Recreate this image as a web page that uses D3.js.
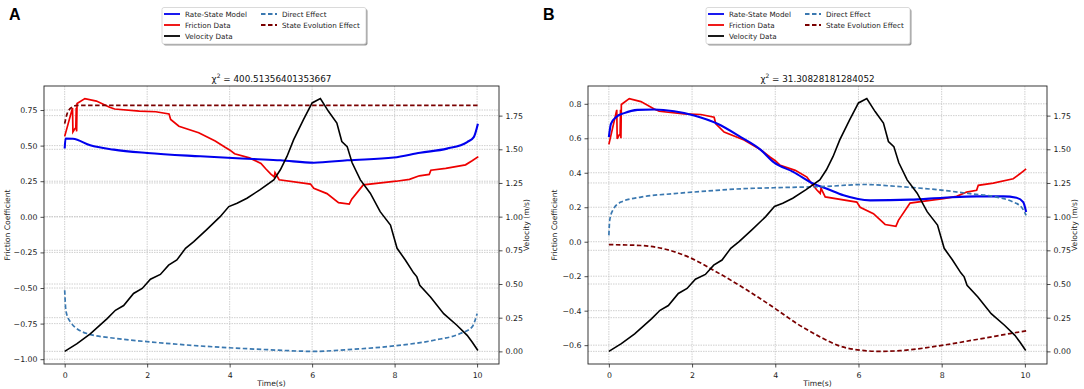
<!DOCTYPE html>
<html>
<head>
<meta charset="utf-8">
<script src="https://cdn.jsdelivr.net/npm/d3@7"></script>
<style>
  body { margin: 0; background: #fff; }
  svg { font-family: "DejaVu Sans", sans-serif; }
</style>
</head>
<body>
<svg id="chart" width="1084" height="389"></svg>
<script>
// measured data (time in s, value)
const frictionData = [[0,0.565],[0.19,0.765],[0.2,0.597],[0.25,0.62],[0.27,0.62],[0.28,0.765],[0.29,0.60],[0.3,0.796],[0.49,0.83],[0.77,0.813],[1.09,0.77],[1.21,0.757],[1.81,0.742],[2.21,0.738],[2.53,0.722],[2.57,0.684],[2.77,0.636],[3.25,0.59],[3.65,0.533],[3.88,0.49],[4.0,0.47],[4.12,0.443],[4.48,0.414],[4.76,0.375],[4.88,0.336],[5.0,0.3],[5.08,0.28],[5.1,0.31],[5.2,0.26],[5.96,0.23],[6.04,0.20],[6.36,0.163],[6.64,0.10],[6.9,0.089],[6.96,0.124],[7.24,0.224],[7.72,0.24],[8.04,0.25],[8.36,0.263],[8.6,0.288],[8.84,0.298],[8.88,0.327],[9.24,0.34],[9.72,0.365],[9.88,0.394],[10.03,0.423]];

const velocityData = [[0,0],[0.3,0.057],[0.62,0.13],[1.03,0.243],[1.23,0.305],[1.43,0.34],[1.67,0.43],[1.88,0.467],[2.08,0.536],[2.32,0.571],[2.52,0.64],[2.72,0.678],[2.93,0.765],[3.13,0.814],[3.45,0.906],[3.77,1.0],[3.98,1.075],[4.18,1.1],[4.42,1.137],[4.74,1.2],[5.07,1.273],[5.23,1.348],[5.39,1.447],[5.55,1.57],[5.79,1.72],[6.0,1.844],[6.2,1.876],[6.4,1.78],[6.6,1.695],[6.72,1.558],[6.85,1.52],[6.97,1.4],[7.17,1.273],[7.41,1.174],[7.65,1.037],[7.9,0.938],[7.98,0.851],[8.06,0.765],[8.26,0.678],[8.46,0.583],[8.54,0.553],[8.61,0.491],[8.87,0.404],[9.19,0.28],[9.51,0.194],[9.76,0.119],[9.88,0.069],[10.02,0.007]];

// panel A fit
const modelA = [[0,0.48],[0.02,0.55],[0.2,0.548],[0.62,0.502],[1.19,0.472],[2.0,0.448],[3.29,0.425],[4.58,0.406],[5.23,0.397],[6.04,0.38],[6.85,0.397],[7.98,0.416],[8.62,0.45],[9.27,0.479],[9.76,0.525],[9.92,0.56],[10.02,0.654]];
const directA = [[0,-0.516],[0.03,-0.66],[0.14,-0.739],[0.54,-0.82],[1.27,-0.855],[2.08,-0.879],[3.29,-0.907],[4.91,-0.933],[6.04,-0.945],[6.85,-0.933],[7.98,-0.907],[8.95,-0.867],[9.59,-0.82],[9.88,-0.773],[10.0,-0.68]];
const stateA = [[0,0.654],[0.06,0.725],[0.18,0.77],[0.3,0.782],[10.03,0.782]];
const chiA = "400.51356401353667";

// panel B fit
const modelB = [[0,0.607],[0.05,0.684],[0.17,0.722],[0.37,0.746],[0.69,0.765],[1.09,0.767],[1.57,0.757],[2.05,0.732],[2.61,0.684],[3.17,0.607],[3.65,0.533],[3.96,0.462],[4.44,0.404],[4.92,0.336],[5.24,0.307],[5.64,0.269],[6.28,0.24],[7.24,0.244],[8.04,0.255],[8.84,0.263],[9.48,0.263],[9.8,0.255],[9.96,0.23],[10.03,0.172]];
const directB = [[0,0.037],[0.02,0.124],[0.09,0.18],[0.29,0.23],[0.77,0.259],[1.57,0.279],[2.37,0.294],[3.17,0.307],[3.96,0.313],[5.24,0.321],[6.12,0.332],[6.92,0.321],[7.88,0.302],[8.68,0.279],[9.32,0.259],[9.72,0.23],[9.92,0.2],[10.03,0.153]];
const stateB = [[0,-0.017],[0.77,-0.022],[1.3,-0.04],[2.0,-0.098],[2.52,-0.166],[3.33,-0.282],[4.0,-0.388],[4.52,-0.475],[5.08,-0.552],[5.56,-0.606],[6.04,-0.629],[6.52,-0.636],[7.0,-0.632],[8.04,-0.6],[8.84,-0.567],[9.64,-0.533],[10.03,-0.517]];
const chiB = "31.30828181284052";

// ticks
const xTicks = [0, 2, 4, 6, 8, 10];
const leftTicksA = [-1.00, -0.75, -0.50, -0.25, 0.00, 0.25, 0.50, 0.75];
const leftTicksB = [-0.6, -0.4, -0.2, 0.0, 0.2, 0.4, 0.6, 0.8];
const rightTicks = [0.00, 0.25, 0.50, 0.75, 1.00, 1.25, 1.50, 1.75];

const legendItems = [
  { label: "Rate-State Model", color: "#0000ee", dash: null, col: 0, row: 0 },
  { label: "Friction Data", color: "#ee0000", dash: null, col: 0, row: 1 },
  { label: "Velocity Data", color: "#000000", dash: null, col: 0, row: 2 },
  { label: "Direct Effect", color: "#3a78b0", dash: "4.5,2.5", col: 1, row: 0 },
  { label: "State Evolution Effect", color: "#7a0000", dash: "4.5,2.5", col: 1, row: 1 }
];

const svg = d3.select("#chart");
const fmtMinus = s => s.replace("-", "\u2212");

// matplotlib style 5% margins
function padded(ext) {
  const p = (ext[1] - ext[0]) * 0.05;
  return [ext[0] - p, ext[1] + p];
}

function drawPanel(opt) {
  const left = opt.left, right = opt.right, top = 86, bottom = 364;
  const g = svg.append("g");

  const allT = frictionData.concat(opt.model).map(d => d[0]);
  const x = d3.scaleLinear().domain(padded(d3.extent(allT))).range([left, right]);

  const leftVals = frictionData.concat(opt.model, opt.direct, opt.state).map(d => d[1]);
  const y = d3.scaleLinear().domain(padded(d3.extent(leftVals))).range([bottom, top]);
  const y2 = d3.scaleLinear().domain(padded(d3.extent(velocityData, d => d[1]))).range([bottom, top]);

  // grid
  const grid = g.append("g").attr("stroke", "#c4c4c4").attr("stroke-width", 0.8).attr("stroke-dasharray", "1.5,1");
  xTicks.forEach(t => grid.append("line").attr("x1", x(t)).attr("x2", x(t)).attr("y1", top).attr("y2", bottom));
  opt.leftTicks.forEach(t => grid.append("line").attr("x1", left).attr("x2", right).attr("y1", y(t)).attr("y2", y(t)));
  rightTicks.forEach(t => grid.append("line").attr("x1", left).attr("x2", right).attr("y1", y2(t)).attr("y2", y2(t)));

  const line = d3.line().x(d => x(d[0])).y(d => y(d[1]));
  const smooth = d3.line().x(d => x(d[0])).y(d => y(d[1])).curve(d3.curveMonotoneX);
  const line2 = d3.line().x(d => x(d[0])).y(d => y2(d[1]));

  g.append("path").attr("d", line(frictionData)).attr("fill", "none").attr("stroke", "#ee0000").attr("stroke-width", 1.7);
  g.append("path").attr("d", smooth(opt.model)).attr("fill", "none").attr("stroke", "#0000ee").attr("stroke-width", 2.1);
  g.append("path").attr("d", smooth(opt.direct)).attr("fill", "none").attr("stroke", "#3a78b0").attr("stroke-width", 1.7).attr("stroke-dasharray", "4.5,2.5");
  g.append("path").attr("d", smooth(opt.state)).attr("fill", "none").attr("stroke", "#7a0000").attr("stroke-width", 1.7).attr("stroke-dasharray", "4.5,2.5");
  g.append("path").attr("d", line2(velocityData)).attr("fill", "none").attr("stroke", "#000").attr("stroke-width", 1.6);

  // axes
  const xAxis = g.append("g").attr("transform", `translate(0,${bottom})`)
    .call(d3.axisBottom(x).tickValues(xTicks).tickSize(3.5).tickSizeOuter(0).tickFormat(d3.format("d")));
  const yAxis = g.append("g").attr("transform", `translate(${left},0)`)
    .call(d3.axisLeft(y).tickValues(opt.leftTicks).tickSize(3.5).tickSizeOuter(0).tickFormat(d => fmtMinus(opt.fmt(d))));
  const yAxis2 = g.append("g").attr("transform", `translate(${right},0)`)
    .call(d3.axisRight(y2).tickValues(rightTicks).tickSize(3.5).tickSizeOuter(0).tickFormat(d3.format(".2f")));
  [xAxis, yAxis, yAxis2].forEach(a => {
    a.select(".domain").remove();
    a.selectAll("line").attr("stroke", "#222").attr("stroke-width", 0.8);
    a.selectAll("text").attr("font-family", "DejaVu Sans").attr("font-size", 7.8).attr("fill", "#222");
  });
  xAxis.selectAll("text").attr("dy", "0.9em");

  g.append("rect").attr("x", left).attr("y", top).attr("width", right - left).attr("height", bottom - top)
    .attr("fill", "none").attr("stroke", "#222").attr("stroke-width", 0.9);

  // labels
  g.append("text").attr("x", (left + right) / 2).attr("y", 386).attr("text-anchor", "middle")
    .attr("font-size", 7.6).attr("fill", "#222").text("Time(s)");
  g.append("text").attr("transform", `translate(${opt.ylabX},${(top + bottom) / 2}) rotate(-90)`)
    .attr("text-anchor", "middle").attr("font-size", 7.6).attr("fill", "#222").text("Friction Coefficient");
  g.append("text").attr("transform", `translate(${right + 30},${(top + bottom) / 2}) rotate(-90)`)
    .attr("text-anchor", "middle").attr("font-size", 7.6).attr("fill", "#222").text("Velocity (m/s)");

  const title = g.append("text").attr("x", (left + right) / 2).attr("y", 82).attr("text-anchor", "middle")
    .attr("font-size", 8.8).attr("fill", "#111");
  title.append("tspan").text("\u03c7");
  title.append("tspan").attr("font-size", 6).attr("dy", -4).text("2");
  title.append("tspan").attr("dy", 4).text(" = " + opt.chi);

  g.append("text").attr("x", opt.letterX).attr("y", 20).attr("font-size", 16).attr("font-weight", "bold")
    .attr("font-family", "Liberation Sans, Arial, sans-serif").text(opt.letter);

  // legend
  const lx = left + 118, ly = 7.5, lw = 204, lh = 36.5;
  const lg = g.append("g");
  lg.append("rect").attr("x", lx + 1.5).attr("y", ly + 1.5).attr("width", lw).attr("height", lh).attr("rx", 2).attr("fill", "#9a9a9a");
  lg.append("rect").attr("x", lx).attr("y", ly).attr("width", lw).attr("height", lh).attr("rx", 2)
    .attr("fill", "#fff").attr("stroke", "#d0d0d0").attr("stroke-width", 0.8);
  legendItems.forEach(it => {
    const cx = lx + 2 + it.col * 97, cy = ly + 6.5 + it.row * 11;
    lg.append("line").attr("x1", cx).attr("x2", cx + 16).attr("y1", cy).attr("y2", cy)
      .attr("stroke", it.color).attr("stroke-width", 1.8).attr("stroke-dasharray", it.dash);
    lg.append("text").attr("x", cx + 21).attr("y", cy).attr("dy", "0.35em").attr("font-size", 7.2)
      .attr("fill", "#222").text(it.label);
  });
}

drawPanel({ left: 44, right: 499, model: modelA, direct: directA, state: stateA, chi: chiA,
  leftTicks: leftTicksA, fmt: d3.format(".2f"), ylabX: 10, letter: "A", letterX: 9 });
drawPanel({ left: 588, right: 1047, model: modelB, direct: directB, state: stateB, chi: chiB,
  leftTicks: leftTicksB, fmt: d3.format(".1f"), ylabX: 557, letter: "B", letterX: 543 });
</script>
</body>
</html>
